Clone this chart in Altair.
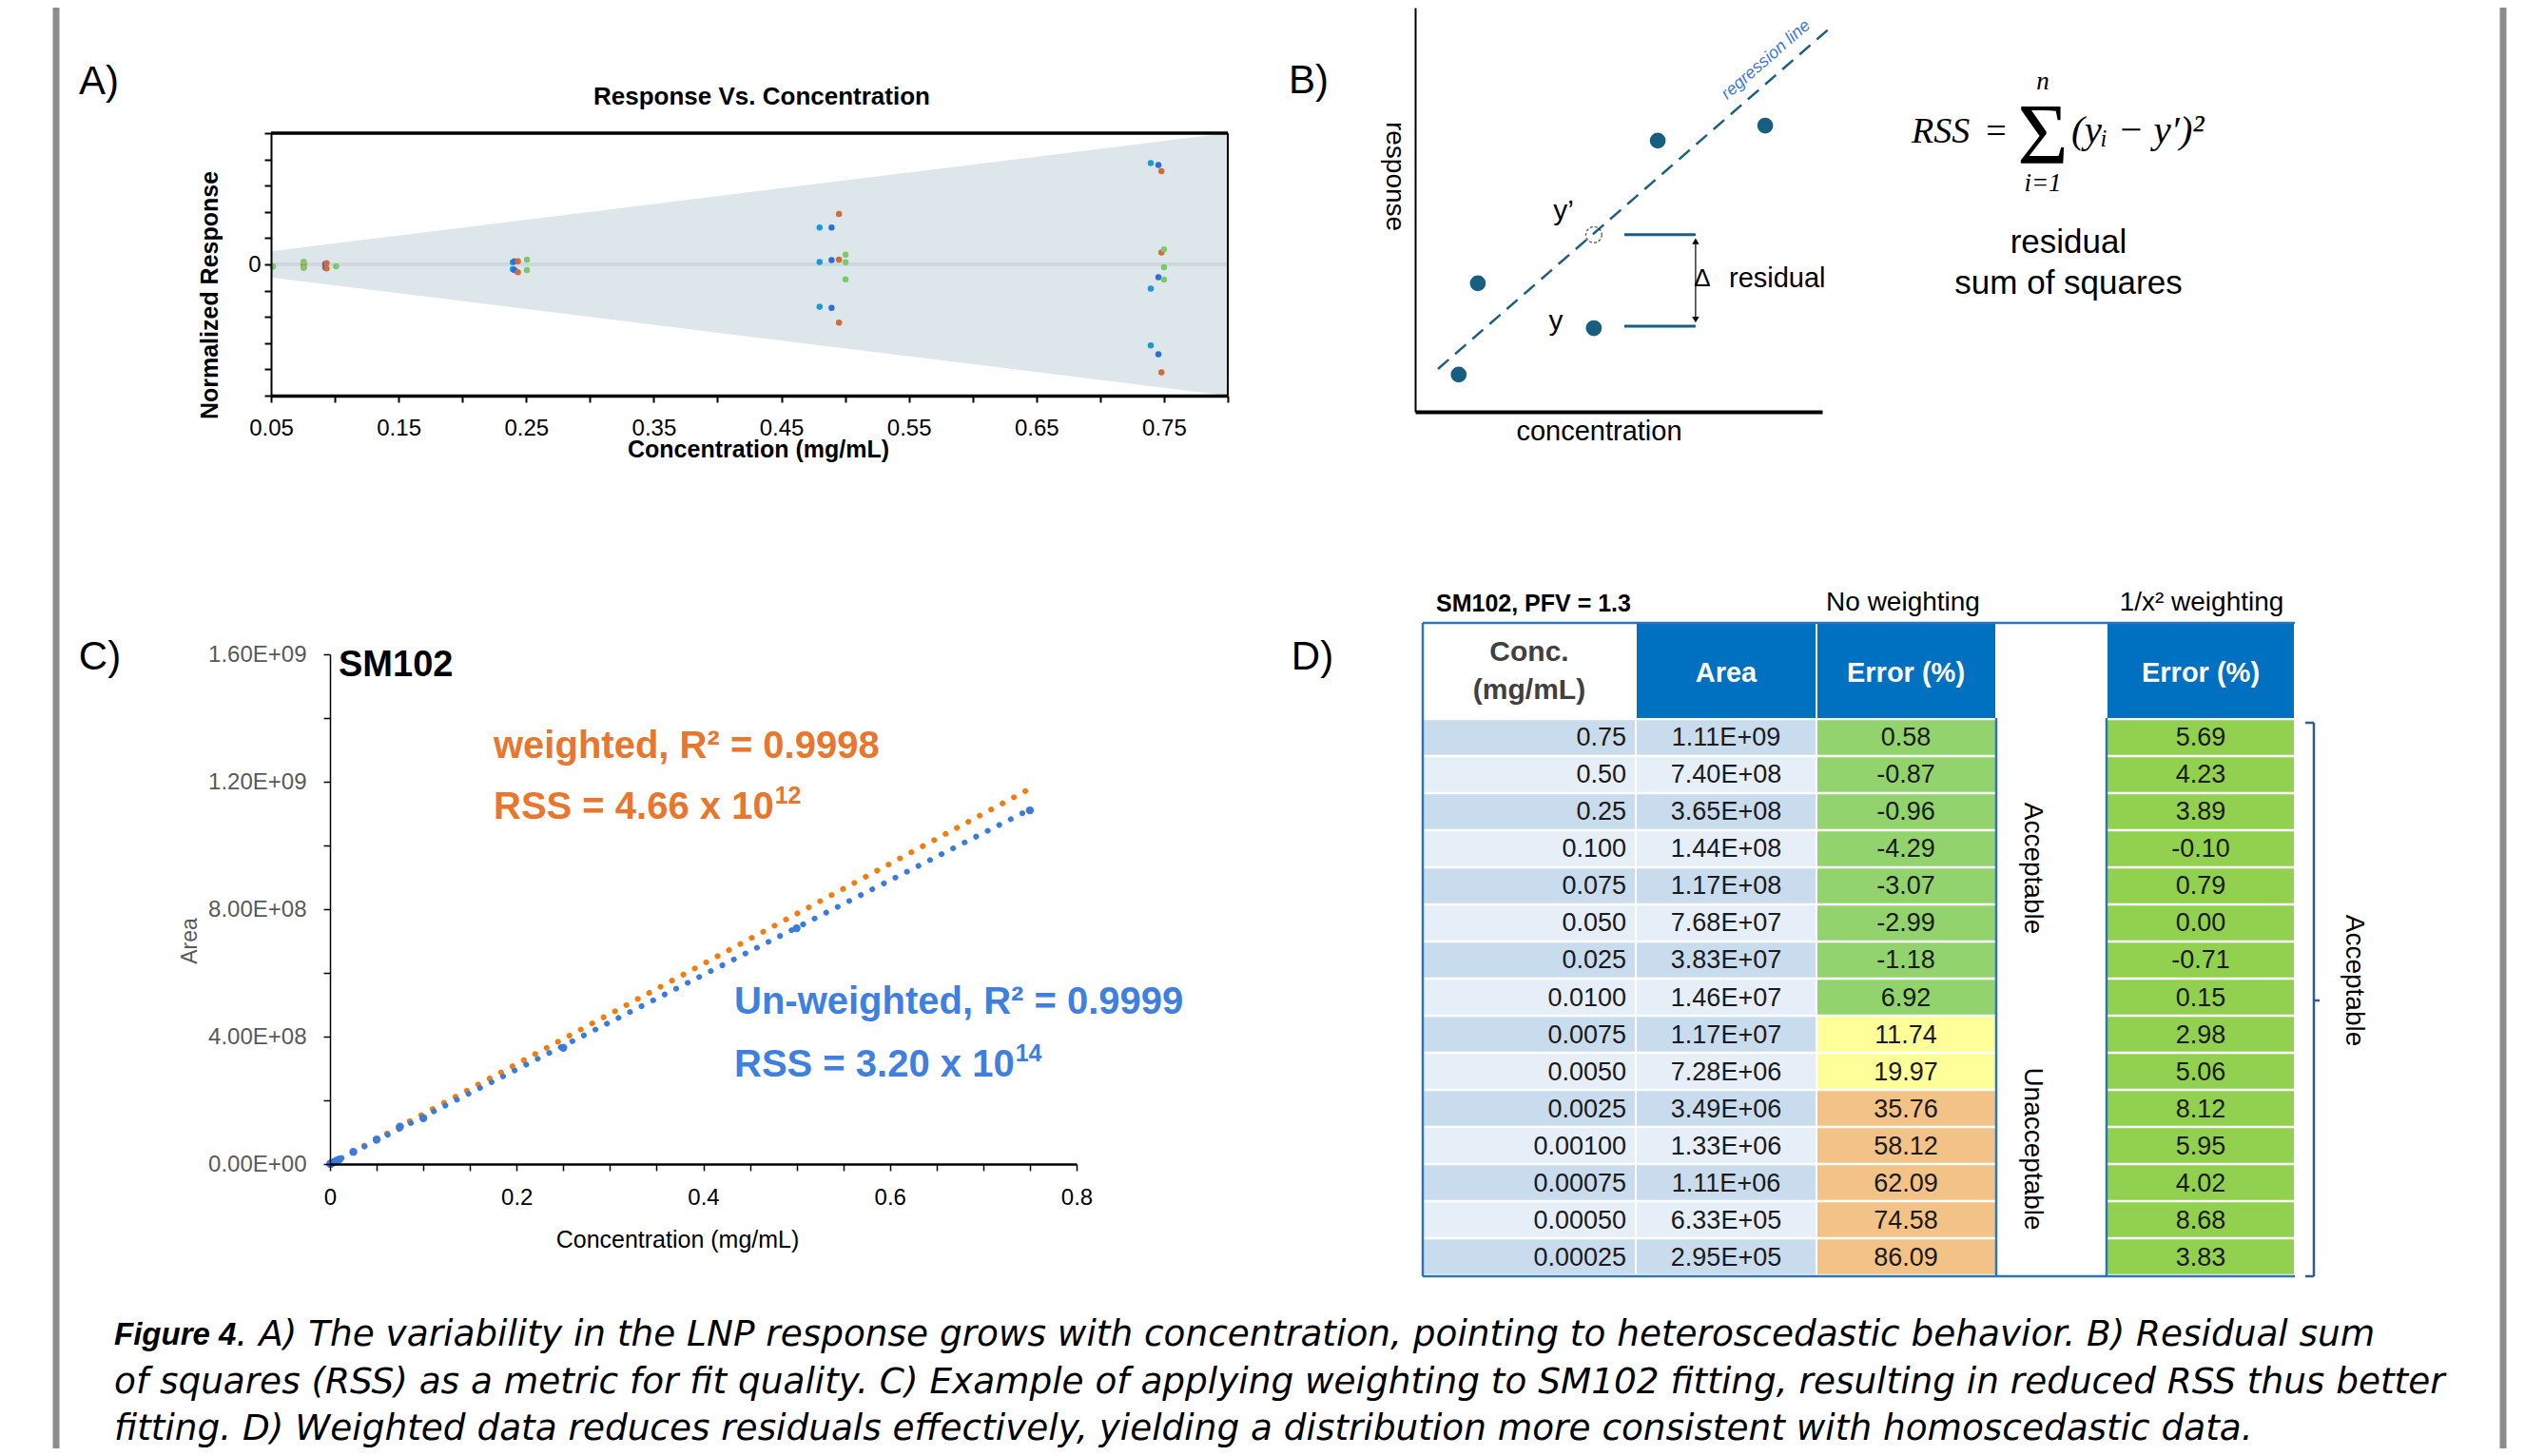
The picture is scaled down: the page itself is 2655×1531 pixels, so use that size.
import altair as alt
import pandas as pd

W, H = 2639, 1515
SANS = "Liberation Sans, Arial, Helvetica, sans-serif"
WIDE = "DejaVu Sans, Verdana, sans-serif"
SERIF = "Liberation Serif, Times New Roman, serif"

# ---------------- Panel A data ----------------
A_RUNS = ["Run 1", "Run 2", "Run 3", "Run 4"]
A_RUN1_CONC = [0.7396, 0.7396, 0.7396, 0.480, 0.480, 0.480, 0.2395, 0.2395]
A_RUN1_RESP = [3.86, -0.92, -3.09, 1.40, 0.09, -1.61, 0.08, -0.18]
A_RUN2_CONC = [0.7456, 0.7456, 0.7456, 0.4894, 0.4894, 0.4894, 0.2409, 0.2409, 0.0925, 0.0925]
A_RUN2_RESP = [3.79, -0.49, -3.42, 1.40, 0.16, -1.66, 0.12, -0.22, 0.02, -0.12]
A_RUN3_CONC = [0.748, 0.748, 0.748, 0.4952, 0.4952, 0.4952, 0.2435, 0.2435, 0.0935, 0.0935, 0.0756, 0.0756]
A_RUN3_RESP = [3.55, 0.45, -4.11, 1.92, 0.18, -2.22, 0.12, -0.30, 0.05, -0.15, 0.02, -0.12]
A_RUN4_CONC = [0.750, 0.750, 0.750, 0.5004, 0.5004, 0.5004, 0.2506, 0.2506, 0.101, 0.0756, 0.0756, 0.0515]
A_RUN4_RESP = [0.57, -0.11, -0.58, 0.37, 0.08, -0.57, 0.18, -0.22, -0.07, 0.10, -0.14, -0.08]
A_RUN_COLORS = ["#1b9ad6", "#2b6fd5", "#d4693a", "#7bc96b"]
A_ENV_CONC = [0.05, 0.80]
A_ENV_HI = [0.5, 5.0]
A_ENV_LO = [-0.5, -5.0]

# ---------------- Panel B data (schematic units) ----------------
B_PTS_X = [1.07, 1.54, 4.39, 5.96, 8.60]
B_PTS_Y = [0.92, 3.18, 2.07, 6.71, 7.08]
B_FIT_X = [0.56, 10.23]
B_FIT_Y = [1.06, 9.53]
B_PRED_X = [4.39]
B_PRED_Y = [4.38]
B_RES_LEVELS = [4.38, 2.12]
B_RES_X = [5.14, 6.89]
B_ARROW_Y = [4.22, 2.28]

# ---------------- Panel C / D data ----------------
CONC_LABELS = ["0.75", "0.50", "0.25", "0.100", "0.075", "0.050", "0.025", "0.0100",
               "0.0075", "0.0050", "0.0025", "0.00100", "0.00075", "0.00050", "0.00025"]
CONC = [0.75, 0.50, 0.25, 0.100, 0.075, 0.050, 0.025, 0.0100,
        0.0075, 0.0050, 0.0025, 0.00100, 0.00075, 0.00050, 0.00025]
AREA = [1.11e9, 7.40e8, 3.65e8, 1.44e8, 1.17e8, 7.68e7, 3.83e7, 1.46e7,
        1.17e7, 7.28e6, 3.49e6, 1.33e6, 1.11e6, 6.33e5, 2.95e5]
ERR_NONE = [0.58, -0.87, -0.96, -4.29, -3.07, -2.99, -1.18, 6.92,
            11.74, 19.97, 35.76, 58.12, 62.09, 74.58, 86.09]
ERR_WEIGHTED = [5.69, 4.23, 3.89, -0.10, 0.79, 0.00, -0.71, 0.15,
                2.98, 5.06, 8.12, 5.95, 4.02, 8.68, 3.83]
FIT_MODELS = ["weighted", "unweighted"]
FIT_CONC = [0.0, 0.75]
FIT_WEIGHTED_AREA = [0.0, 1.178e9]
FIT_UNWEIGHTED_AREA = [0.0, 1.113e9]

CAPTION_BOLD = "Figure 4"
CAPTION_LINES = [
    ". A) The variability in the LNP response grows with concentration, pointing to heteroscedastic behavior. B) Residual sum",
    "of squares (RSS) as a metric for fit quality. C) Example of applying weighting to SM102 fitting, resulting in reduced RSS thus better",
    "fitting. D) Weighted data reduces residuals effectively, yielding a distribution more consistent with homoscedastic data.",
]

# ---------------- helpers ----------------
ONE = alt.Data(values=[{"k": 1}])


def label(t, x, y, size, color="#000000", weight="normal", style="normal",
          align="center", baseline="middle", angle=None, font=SANS):
    kw = dict(text=t, fontSize=size, color=color, fontWeight=weight,
              fontStyle=style, align=align, baseline=baseline, font=font)
    if angle is not None:
        kw["angle"] = angle
    return alt.Chart(ONE).mark_text(**kw).encode(x=alt.value(x), y=alt.value(y))


def seg(x1, y1, x2, y2, color, width, dash=None):
    kw = dict(color=color, strokeWidth=width)
    if dash:
        kw["strokeDash"] = dash
    enc = dict(x=alt.value(x1), y=alt.value(y1))
    if x2 != x1:
        enc["x2"] = alt.value(x2)
    if y2 != y1:
        enc["y2"] = alt.value(y2)
    return alt.Chart(ONE).mark_rule(**kw).encode(**enc)


def box(x1, y1, x2, y2, color):
    return alt.Chart(ONE).mark_rect(color=color).encode(
        x=alt.value(x1), x2=alt.value(x2), y=alt.value(y1), y2=alt.value(y2))


# ================= Panel A =================
rows = []
for run, xs, ys in zip(A_RUNS, [A_RUN1_CONC, A_RUN2_CONC, A_RUN3_CONC, A_RUN4_CONC],
                       [A_RUN1_RESP, A_RUN2_RESP, A_RUN3_RESP, A_RUN4_RESP]):
    for xv, yv in zip(xs, ys):
        rows.append({"conc": xv, "resp": yv, "run": run})
a_df = pd.DataFrame(rows)
env_df = pd.DataFrame({"conc": A_ENV_CONC, "hi": A_ENV_HI, "lo": A_ENV_LO})
a_lim = pd.DataFrame({"conc": [A_ENV_CONC[0]], "conc2": [A_ENV_CONC[1]],
                      "zero": [0], "top": [A_ENV_HI[1]], "bot": [A_ENV_LO[1]]})

sxA = alt.Scale(domain=[0.05, 0.80], range=[277, 1283], nice=False, zero=False)
syA = alt.Scale(domain=[-5, 5], range=[408, 132], nice=False, zero=False)
A_XTICKS = [round(0.05 * k, 2) for k in range(1, 17)]
axAx = alt.Axis(orient="bottom", offset=408 - H, values=A_XTICKS,
                labelExpr="(round(datum.value * 100) % 10 == 5) ? format(datum.value, '.2f') : ''",
                domainColor="#000000", domainWidth=3.5, tickColor="#000000", tickWidth=2, tickSize=7,
                labelFontSize=24, labelColor="#000000", labelPadding=15, labelFont=SANS,
                title="Concentration (mg/mL)", titleFontSize=25, titleFontWeight="bold",
                titleColor="#000000", titleX=789, titleY=56, titleBaseline="middle",
                titleFont=SANS, grid=False, labelFlush=False, labelOverlap=False, zindex=2)
axAy = alt.Axis(orient="left", offset=-277, values=list(range(-5, 6)),
                labelExpr="datum.value == 0 ? '0' : ''",
                domainColor="#000000", domainWidth=2, tickColor="#000000", tickWidth=2, tickSize=7,
                labelFontSize=24, labelColor="#000000", labelPadding=4, labelFont=SANS,
                title="Normalized Response", titleFontSize=25, titleFontWeight="bold",
                titleColor="#000000", titleX=-65, titleY=302, titleAngle=270,
                titleAlign="center", titleBaseline="middle", titleFont=SANS,
                grid=False, labelOverlap=False, zindex=2)

envA = alt.Chart(env_df).mark_area(color="#dde6ea").encode(
    x=alt.X("conc:Q", scale=sxA, axis=axAx),
    y=alt.Y("hi:Q", scale=syA, axis=axAy), y2="lo:Q")
zeroA = alt.Chart(a_lim).mark_rule(color="#cdd8dd", strokeWidth=4).encode(
    x=alt.X("conc:Q", scale=sxA, axis=axAx), x2="conc2:Q",
    y=alt.Y("zero:Q", scale=syA, axis=axAy))
topA = alt.Chart(a_lim).mark_rule(color="#000000", strokeWidth=3.5).encode(
    x=alt.X("conc:Q", scale=sxA, axis=axAx), x2="conc2:Q",
    y=alt.Y("top:Q", scale=syA, axis=axAy))
rightA = alt.Chart(a_lim).mark_rule(color="#000000", strokeWidth=2).encode(
    x=alt.X("conc2:Q", scale=sxA, axis=axAx),
    y=alt.Y("bot:Q", scale=syA, axis=axAy), y2="top:Q")
ptsA = alt.Chart(a_df).mark_circle(size=42, opacity=1).encode(
    x=alt.X("conc:Q", scale=sxA, axis=axAx),
    y=alt.Y("resp:Q", scale=syA, axis=axAy),
    color=alt.Color("run:N", scale=alt.Scale(domain=A_RUNS, range=A_RUN_COLORS), legend=None))
panelA = alt.layer(envA, zeroA, topA, rightA, ptsA)

# ================= Panel B =================
sxB = alt.Scale(domain=[0, 10], range=[1480, 1908], nice=False, zero=False)
syB = alt.Scale(domain=[0, 10], range=[425, 0], nice=False, zero=False)
axBx = alt.Axis(orient="bottom", offset=425 - H, ticks=False, labels=False, grid=False,
                domainColor="#000000", domainWidth=4, title="concentration",
                titleFont=SANS, titleFontSize=29, titleFontWeight="normal", titleColor="#000000",
                titleX=1673, titleY=20, titleBaseline="middle", zindex=2)
axBy = alt.Axis(orient="left", offset=-1480, ticks=False, labels=False, grid=False,
                domainColor="#000000", domainWidth=2, title="response",
                titleFont=SANS, titleFontSize=28, titleFontWeight="normal", titleColor="#000000",
                titleAngle=90, titleX=-23, titleY=177, titleAlign="center",
                titleBaseline="middle", zindex=2)
TEAL = "#175e80"
b_pts = pd.DataFrame({"x": B_PTS_X, "y": B_PTS_Y})
b_fit = pd.DataFrame({"x": B_FIT_X, "y": B_FIT_Y})
b_pred = pd.DataFrame({"x": B_PRED_X, "y": B_PRED_Y})
b_res = pd.DataFrame({"x": [B_RES_X[0]] * 2, "x2": [B_RES_X[1]] * 2, "y": B_RES_LEVELS})
b_arrow = pd.DataFrame({"x": [B_RES_X[1]], "y": [B_ARROW_Y[0]], "y2": [B_ARROW_Y[1]]})
b_heads = pd.DataFrame({"x": [B_RES_X[1]] * 2, "y": B_ARROW_Y, "dir": ["up", "down"]})


def bx(f="x"):
    return alt.X(f + ":Q", scale=sxB, axis=axBx)


def by(f="y"):
    return alt.Y(f + ":Q", scale=syB, axis=axBy)


fitB = alt.Chart(b_fit).mark_line(color="#1f5f80", strokeWidth=2.5, strokeDash=[15, 9]).encode(x=bx(), y=by())
ptsB = alt.Chart(b_pts).mark_circle(size=280, opacity=1, color=TEAL).encode(x=bx(), y=by())
predB = alt.Chart(b_pred).mark_point(shape="circle", size=280, filled=False, color="#000000",
                                     strokeWidth=1.2, strokeDash=[3, 2]).encode(x=bx(), y=by())
resB = alt.Chart(b_res).mark_rule(color=TEAL, strokeWidth=3).encode(x=bx(), x2="x2:Q", y=by())
arrB = alt.Chart(b_arrow).mark_rule(color="#000000", strokeWidth=1.2).encode(x=bx(), y=by(), y2="y2:Q")
headB = alt.Chart(b_heads).mark_point(filled=True, size=55, color="#000000", opacity=1).encode(
    x=bx(), y=by(),
    shape=alt.Shape("dir:N", scale=alt.Scale(domain=["up", "down"], range=["triangle-up", "triangle-down"]),
                    legend=None))
panelB = alt.layer(fitB, resB, arrB, headB, predB, ptsB)

# ================= Panel C =================
ORANGE = "#ee7d14"
BLUE = "#3a7bdc"
sxC = alt.Scale(domain=[0, 0.8], range=[339, 1124], nice=False, zero=False)
syC = alt.Scale(domain=[0, 1.6e9], range=[1216, 680], nice=False, zero=False)
C_XTICKS = [round(0.05 * k, 2) for k in range(0, 17)]
C_YTICKS = [2e8 * k for k in range(0, 9)]
axCx = alt.Axis(orient="bottom", offset=1216 - H, values=C_XTICKS,
                labelExpr="(round(datum.value * 100) % 20 == 0) ? (datum.value == 0 ? '0' : format(datum.value, '.1f')) : ''",
                domainColor="#000000", domainWidth=2.5, tickColor="#000000", tickWidth=1.5, tickSize=7,
                labelFontSize=24, labelColor="#000000", labelPadding=16, labelFont=SANS,
                title="Concentration (mg/mL)", titleFontSize=25, titleFontWeight="normal",
                titleColor="#000000", titleX=704, titleY=79, titleBaseline="middle",
                titleFont=SANS, grid=False, labelFlush=False, labelOverlap=False, zindex=2)
axCy = alt.Axis(orient="left", offset=-339, values=C_YTICKS,
                labelExpr=("(round(datum.value / 200000000) % 2 == 0) ? (datum.value == 0 ? '0.00E+00' : "
                           "format(datum.value / pow(10, floor(log(datum.value) / LN10 + 0.000001)), '.2f') + 'E+' + "
                           "format(floor(log(datum.value) / LN10 + 0.000001), '02d')) : ''"),
                domainColor="#000000", domainWidth=1.5, tickColor="#000000", tickWidth=1.5, tickSize=7,
                labelFontSize=24, labelColor="#595959", labelPadding=18, labelFont=SANS,
                title="Area", titleFontSize=23, titleFontWeight="normal", titleColor="#595959",
                titleX=-148, titleY=981, titleAngle=270, titleAlign="center",
                titleBaseline="middle", titleFont=SANS, grid=False, labelOverlap=False, zindex=2)

fit_df = pd.DataFrame({
    "conc": FIT_CONC + FIT_CONC,
    "area": FIT_WEIGHTED_AREA + FIT_UNWEIGHTED_AREA,
    "model": [FIT_MODELS[0]] * 2 + [FIT_MODELS[1]] * 2,
})
c_df = pd.DataFrame({"conc": CONC, "area": AREA})
fitC = alt.Chart(fit_df).mark_line(strokeWidth=6, strokeDash=[0.1, 13.5], strokeCap="round").encode(
    x=alt.X("conc:Q", scale=sxC, axis=axCx),
    y=alt.Y("area:Q", scale=syC, axis=axCy),
    color=alt.Color("model:N", scale=alt.Scale(domain=FIT_MODELS, range=[ORANGE, BLUE]), legend=None),
    detail="model:N")
ptsC = alt.Chart(c_df).mark_circle(size=70, opacity=1, color=BLUE).encode(
    x=alt.X("conc:Q", scale=sxC, axis=axCx),
    y=alt.Y("area:Q", scale=syC, axis=axCy))
panelC = alt.layer(fitC, ptsC)

# ================= Panel D (table) =================
ROW_DARK, ROW_LIGHT = "#c9dcee", "#e6eef8"
G_NONE, YEL, ORG, G_W = "#92d36e", "#ffff99", "#f3c287", "#92d050"
CELL_TXT = "#1a1a1a"
t_df = pd.DataFrame({
    "idx": list(range(len(CONC_LABELS))),
    "conc": CONC_LABELS,
    "area": [f"{a:.2E}" for a in AREA],
    "err": ERR_NONE,
    "errw": ERR_WEIGHTED,
    "err_txt": [f"{v:.2f}" for v in ERR_NONE],
    "errw_txt": [f"{v:.2f}" for v in ERR_WEIGHTED],
})
base_t = alt.Chart(t_df).transform_calculate(band="datum.idx % 2 == 0 ? 'dark' : 'light'")
syD = alt.Scale(domain=CONC_LABELS, range=[748, 1333], paddingInner=0.065, paddingOuter=0.03)
yD = alt.Y("conc:N", scale=syD, axis=None)
stripe = alt.Color("band:N", scale=alt.Scale(domain=["dark", "light"], range=[ROW_DARK, ROW_LIGHT]), legend=None)
cConc = base_t.mark_rect().encode(x=alt.value(1489), x2=alt.value(1711), y=yD, color=stripe)
cArea = base_t.mark_rect().encode(x=alt.value(1713), x2=alt.value(1901), y=yD, color=stripe)
cErr = base_t.mark_rect().encode(
    x=alt.value(1903), x2=alt.value(2090), y=yD,
    color=alt.Color("err:Q", scale=alt.Scale(type="threshold", domain=[10, 20], range=[G_NONE, YEL, ORG]),
                    legend=None))
cErrW = base_t.mark_rect(color=G_W).encode(x=alt.value(2208), x2=alt.value(2404), y=yD)
tk = dict(baseline="middle", fontSize=27, font=SANS, color=CELL_TXT, dy=1)
tConc = base_t.mark_text(align="right", **tk).encode(x=alt.value(1702), y=yD, text="conc:N")
tArea = base_t.mark_text(align="center", **tk).encode(x=alt.value(1807), y=yD, text="area:N")
tErr = base_t.mark_text(align="center", **tk).encode(x=alt.value(1996), y=yD, text="err_txt:N")
tErrW = base_t.mark_text(align="center", **tk).encode(x=alt.value(2306), y=yD, text="errw_txt:N")
panelD = alt.layer(cConc, cArea, cErr, cErrW, tConc, tArea, tErr, tErrW).resolve_scale(color="independent")

TBL_BLUE = "#0070c0"
TBL_LINE = "#2e75b6"
BRACKET = "#2f5d8a"
C_ORANGE_TXT = "#e8762d"
C_BLUE_TXT = "#3f80de"
RSS_PREFIX_EM = 7.366  # width of "RSS = d.dd x 10" in em (Arial bold metrics)
CAP = 37.4
misc = [
    # frame
    seg(51, 0, 51, H, "#8c8c8c", 7),
    seg(2624, 0, 2624, H, "#8c8c8c", 7),
    # panel letters
    label("A)", 96, 78, 42), label("B)", 1368, 77, 42),
    label("C)", 97, 683, 42), label("D)", 1372, 683, 42),
    # panel A title
    label("Response Vs. Concentration", 793, 94, 26, weight="bold"),
    # panel B annotations
    label("y\u2019", 1636, 214, 30), label("y", 1628, 330, 30),
    label("\u0394", 1782, 285, 26), label("residual", 1810, 285, 29, align="left"),
    label("regression line", 1849, 55, 18, color="#3c78d8", style="italic", angle=319),
    label("RSS", 2002, 142, 38, style="italic", align="left", baseline="alphabetic", font=SERIF),
    label("=", 2091, 142, 38, baseline="alphabetic", font=SERIF),
    label("\u03a3", 2140, 164, 92, baseline="alphabetic", font=SERIF),
    label("n", 2140, 78, 27, style="italic", font=SERIF),
    label("i=1", 2140, 185, 27, style="italic", font=SERIF),
    label("(y\u1d62 \u2212 y\u2032)\u00b2", 2170, 142, 41, style="italic", align="left",
          baseline="alphabetic", font=SERIF),
    label("residual", 2167, 247, 35), label("sum of squares", 2167, 290, 35),
    # panel C annotations
    label("SM102", 348, 692, 38, weight="bold", align="left"),
    label("weighted, R\u00b2 = 0.9998", 511, 777, 40, color=C_ORANGE_TXT, weight="bold", align="left"),
    label("RSS = 4.66 x 10", 511, 841, 40, color=C_ORANGE_TXT, weight="bold", align="left"),
    label("12", 511 + RSS_PREFIX_EM * 40 + 1, 829, 25, color=C_ORANGE_TXT, weight="bold", align="left"),
    label("Un-weighted, R\u00b2 = 0.9999", 764, 1046, 40, color=C_BLUE_TXT, weight="bold", align="left"),
    label("RSS = 3.20 x 10", 764, 1112, 40, color=C_BLUE_TXT, weight="bold", align="left"),
    label("14", 764 + RSS_PREFIX_EM * 40 + 1, 1100, 25, color=C_BLUE_TXT, weight="bold", align="left"),
    # panel D headers
    label("SM102, PFV = 1.3", 1502, 627, 25, weight="bold", align="left"),
    label("No weighting", 1993, 626, 28), label("1/x\u00b2 weighting", 2307, 626, 28),
    box(1713, 648, 1901, 747, TBL_BLUE), box(1903, 648, 2090, 747, TBL_BLUE),
    box(2208, 648, 2404, 747, TBL_BLUE),
    label("Conc.", 1600, 678, 30, color="#404040", weight="bold"),
    label("(mg/mL)", 1600, 718, 30, color="#404040", weight="bold"),
    label("Area", 1807, 700, 29, color="#ffffff", weight="bold"),
    label("Error (%)", 1996, 700, 29, color="#ffffff", weight="bold"),
    label("Error (%)", 2306, 700, 29, color="#ffffff", weight="bold"),
    seg(1488, 647, 2405, 647, TBL_LINE, 2.5),
    seg(1488, 647, 1488, 1334, TBL_LINE, 2.5),
    seg(1488, 1334, 2405, 1334, TBL_LINE, 2.5),
    seg(2091, 747, 2091, 1334, TBL_LINE, 2.5),
    seg(2207, 747, 2207, 1334, TBL_LINE, 2.5),
    label("Acceptable", 2129, 905, 28, angle=90),
    label("Unacceptable", 2129, 1200, 28, angle=90),
    seg(2416, 752, 2425, 752, BRACKET, 2.5),
    seg(2425, 752, 2425, 1334, BRACKET, 2.5),
    seg(2416, 1334, 2425, 1334, BRACKET, 2.5),
    seg(2425, 1044, 2431, 1044, BRACKET, 2.5),
    label("Acceptable", 2467, 1023, 28, angle=90),
    # caption
    label(CAPTION_BOLD, 112, 1396, 33, weight="bold", style="italic", align="left"),
    label(CAPTION_LINES[0], 112 + 3.89 * 33, 1396, CAP, style="italic", align="left", font=WIDE),
    label(CAPTION_LINES[1], 112, 1446, CAP, style="italic", align="left", font=WIDE),
    label(CAPTION_LINES[2], 112, 1495, CAP, style="italic", align="left", font=WIDE),
]

chart = alt.layer(panelA, panelB, panelC, panelD, *misc).resolve_scale(
    x="independent", y="independent", color="independent", shape="independent"
).properties(
    width=W, height=H, padding=0, autosize=alt.AutoSizeParams(type="none")
).configure_view(strokeWidth=0)

chart.save("out.html", embed_options={"renderer": "svg", "actions": False})
